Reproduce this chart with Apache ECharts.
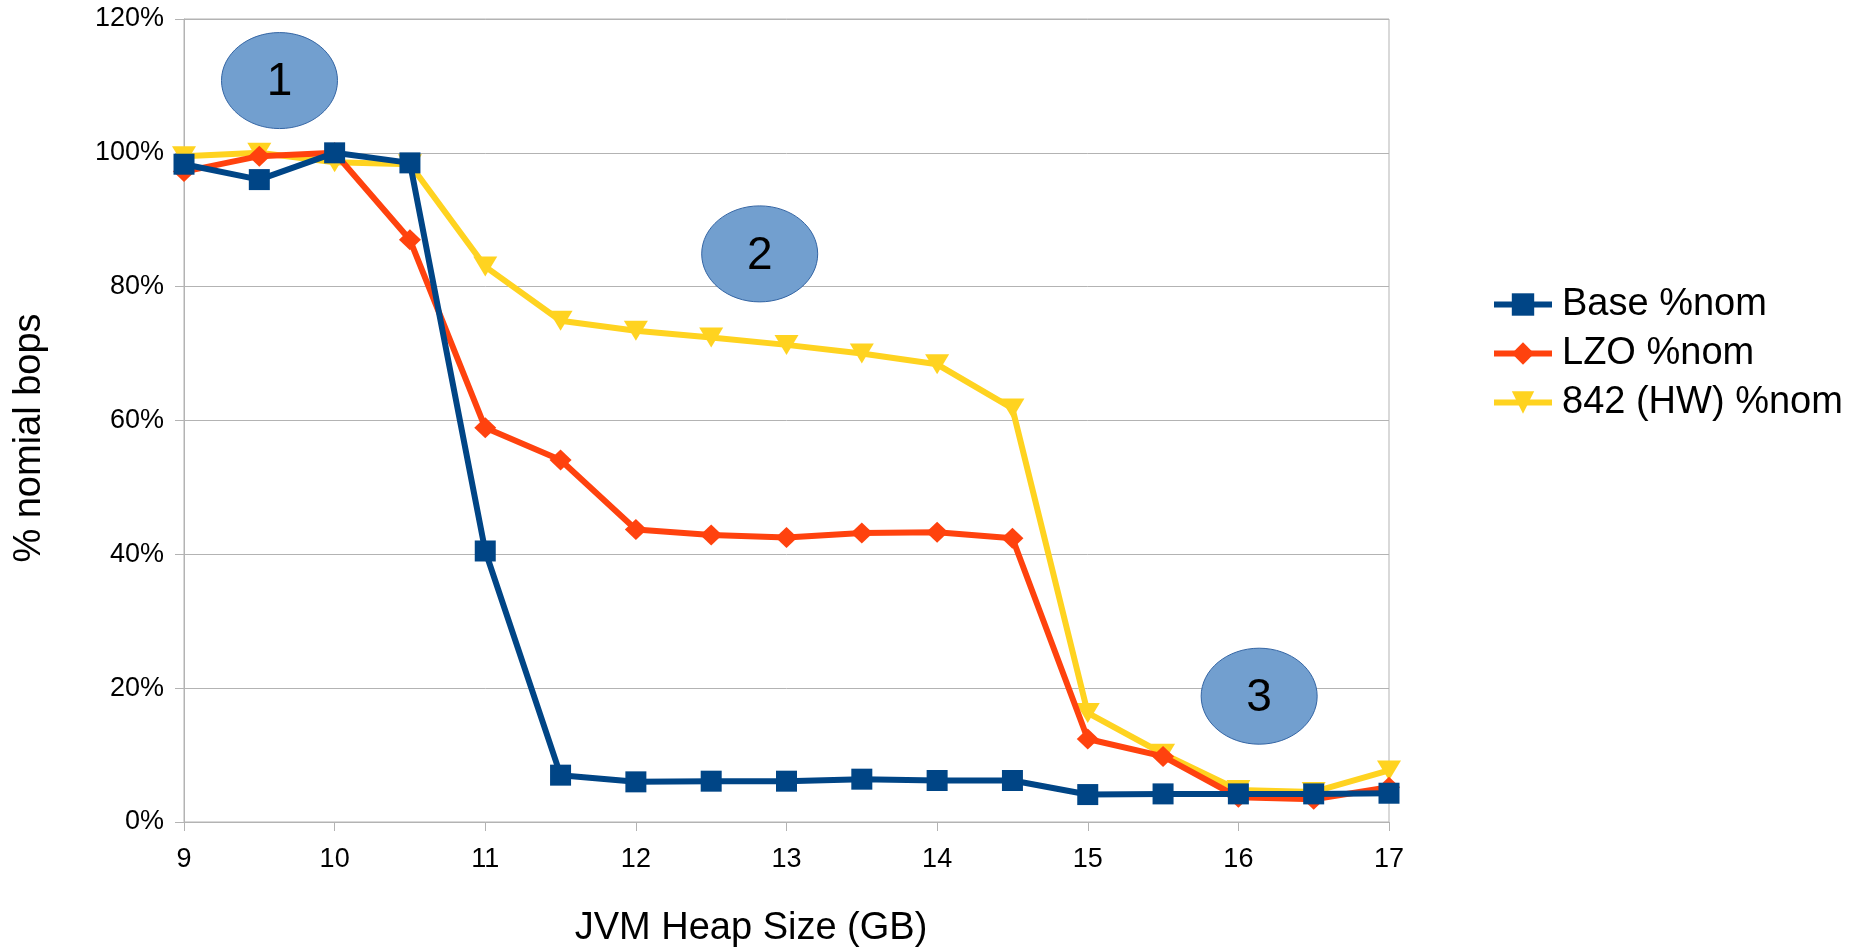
<!DOCTYPE html>
<html>
<head>
<meta charset="utf-8">
<title>JVM heap size vs. nominal bops</title>
<script src="https://cdn.jsdelivr.net/npm/echarts@6/dist/echarts.min.js"></script>
<style>
  html, body { margin: 0; padding: 0; background: #ffffff; }
  #chart { width: 1865px; height: 952px; }
</style>
</head>
<body>
<div id="chart"></div>
<script>
// JVM heap sizes (GB)
const heapSizes = [9, 9.5, 10, 10.5, 11, 11.5, 12, 12.5, 13, 13.5, 14, 14.5, 15, 15.5, 16, 16.5, 17];

// Percentage of nominal bops per configuration
const basePct = [98.3, 96.0, 100.0, 98.5, 40.5, 7.0, 6.0, 6.1, 6.1, 6.4, 6.2, 6.2, 4.1, 4.2, 4.2, 4.2, 4.3];
const lzoPct  = [97.2, 99.5, 100.0, 87.0, 58.9, 54.1, 43.7, 42.9, 42.5, 43.2, 43.3, 42.4, 12.4, 9.8, 3.7, 3.4, 5.2];
const hwPct   = [99.5, 100.0, 98.6, 98.3, 83.0, 74.9, 73.4, 72.4, 71.3, 70.0, 68.4, 61.8, 16.3, 10.2, 4.8, 4.5, 7.7];

const seriesNames = ['Base %nom', 'LZO %nom', '842 (HW) %nom'];
const xTitle = 'JVM Heap Size (GB)';
const yTitle = '% nomial bops';

// Numbered callouts: label, x (GB), y (%)
const calloutLabels = ['1', '2', '3'];
const calloutX = [9.634, 12.822, 16.138];
const calloutY = [110.8, 84.9, 18.8];

const FONT = '"Liberation Sans", Arial, sans-serif';
const GRID_COLOR = '#b3b3b3';

function pairs(values) {
  return heapSizes.map((x, i) => [x, values[i]]);
}

const chart = echarts.init(document.getElementById('chart'), null, { renderer: 'canvas' });

chart.setOption({
  backgroundColor: '#ffffff',
  animation: false,
  textStyle: { fontFamily: FONT },
  grid: {
    left: 184, right: 476, top: 19, bottom: 130,
    show: true, borderColor: GRID_COLOR, borderWidth: 1
  },
  legend: {
    orient: 'vertical',
    left: 1486,
    top: 280,
    itemWidth: 58,
    itemHeight: 28,
    itemGap: 10,
    data: seriesNames,
    lineStyle: { width: 6 },
    textStyle: { fontFamily: FONT, fontSize: 38, color: '#000000', lineHeight: 39, padding: [0, 0, 0, 5] }
  },
  xAxis: {
    type: 'value',
    min: 9, max: 17, interval: 1,
    axisLine: { show: true, lineStyle: { color: GRID_COLOR, width: 1 } },
    axisTick: { show: true, length: 9, lineStyle: { color: GRID_COLOR } },
    axisLabel: { fontFamily: FONT, fontSize: 27, color: '#000000', margin: 24 },
    splitLine: { show: false }
  },
  yAxis: {
    type: 'value',
    min: 0, max: 120, interval: 20,
    axisLine: { show: true, lineStyle: { color: GRID_COLOR, width: 1 } },
    axisTick: { show: true, length: 9, lineStyle: { color: GRID_COLOR } },
    axisLabel: { fontFamily: FONT, fontSize: 27, color: '#000000', margin: 20, formatter: '{value}%' },
    splitLine: { show: true, lineStyle: { color: GRID_COLOR, width: 1 } }
  },
  series: [
    {
      name: seriesNames[0], type: 'line', z: 4,
      data: pairs(basePct),
      symbol: 'rect', symbolSize: 21,
      lineStyle: { color: '#004586', width: 6 },
      itemStyle: { color: '#004586' }
    },
    {
      name: seriesNames[1], type: 'line', z: 3,
      data: pairs(lzoPct),
      symbol: 'diamond', symbolSize: [22, 21],
      lineStyle: { color: '#ff420e', width: 6 },
      itemStyle: { color: '#ff420e' }
    },
    {
      name: seriesNames[2], type: 'line', z: 2,
      data: pairs(hwPct),
      symbol: 'triangle', symbolSize: [24, 20], symbolRotate: 180,
      lineStyle: { color: '#ffd320', width: 6 },
      itemStyle: { color: '#ffd320' }
    }
  ]
});

// Axis titles and numbered ellipses at their data positions
function drawOverlays() {
  const elements = calloutLabels.map((label, i) => {
    const p = chart.convertToPixel({ gridIndex: 0 }, [calloutX[i], calloutY[i]]);
    return {
      type: 'group',
      x: p[0], y: p[1],
      z: 100,
      children: [
        {
          type: 'ellipse',
          shape: { cx: 0, cy: 0, rx: 58, ry: 48 },
          style: { fill: '#729fcf', stroke: '#3465a4', lineWidth: 1 }
        },
        {
          type: 'text',
          x: 0, y: 2,
          style: {
            text: label, fill: '#000000',
            font: '46px ' + FONT,
            textAlign: 'center', textVerticalAlign: 'middle'
          }
        }
      ]
    };
  });
  elements.push({
    type: 'text',
    x: 751, y: 929,
    style: {
      text: xTitle, fill: '#000000', font: '38px ' + FONT,
      textAlign: 'center', textVerticalAlign: 'middle'
    }
  });
  elements.push({
    type: 'text',
    x: 30, y: 438,
    rotation: Math.PI / 2,
    style: {
      text: yTitle, fill: '#000000', font: '38px ' + FONT,
      textAlign: 'center', textVerticalAlign: 'middle'
    }
  });
  chart.setOption({ graphic: elements });
}
drawOverlays();
</script>
</body>
</html>
